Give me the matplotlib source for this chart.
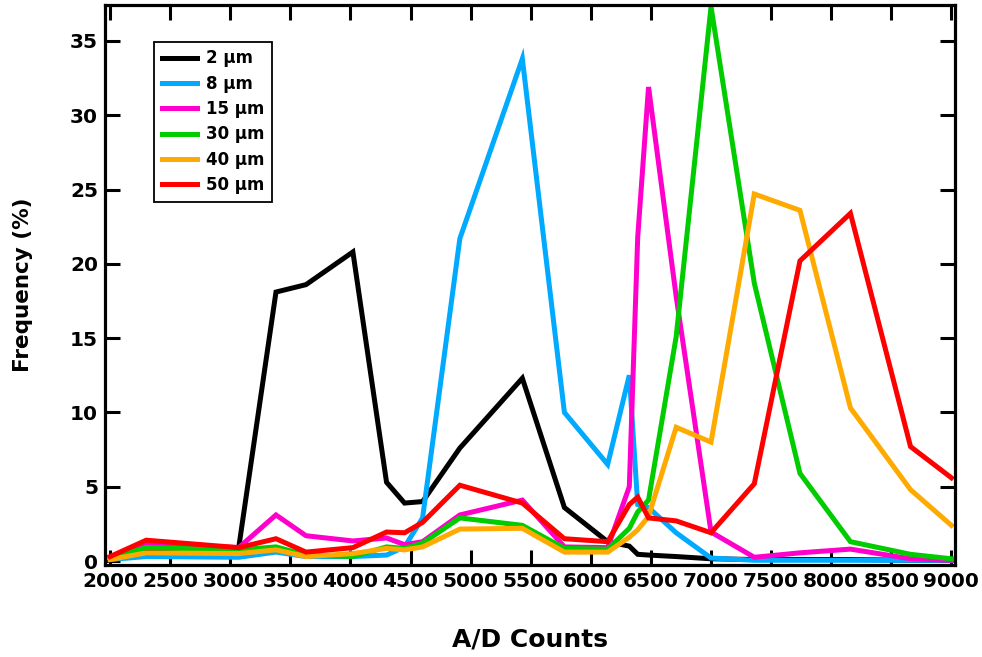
import numpy as np
import matplotlib.pyplot as plt

# ============================================================
#  DONNEES : distribution des comptes A/D par taille de particule
# ============================================================

counts = [2000, 2300, 3070, 3380, 3630, 4020, 4300, 4450, 4600, 4910, 5430, 5780,
          6140, 6320, 6390, 6480, 6710, 7000, 7360, 7740, 8160, 8660, 9000]

freq_2um = [0.2, 0.7, 0.9, 18.1, 18.6, 20.8, 5.3, 3.9, 4.0, 7.6, 12.3, 3.6,
            1.3, 1.0, 0.45, 0.4, 0.3, 0.15, 0.1, 0.1, 0.1, 0.05, 0.05]
freq_8um = [0.1, 0.3, 0.25, 0.6, 0.3, 0.3, 0.4, 0.95, 2.9, 21.7, 33.8, 10.0,
            6.5, 12.5, 3.8, 3.6, 1.9, 0.2, 0.05, 0.05, 0.05, 0.05, 0.05]
freq_15um = [0.2, 1.2, 0.9, 3.1, 1.7, 1.35, 1.55, 1.1, 1.3, 3.1, 4.1, 0.95,
             0.9, 5.0, 21.8, 31.9, 17.8, 1.95, 0.25, 0.55, 0.8, 0.15, 0.05]
freq_30um = [0.2, 0.9, 0.75, 0.95, 0.4, 0.3, 0.95, 0.85, 1.2, 2.9, 2.4, 0.85,
             0.8, 2.2, 3.3, 4.1, 15.1, 37.3, 18.7, 5.9, 1.3, 0.45, 0.15]
freq_40um = [0.1, 0.55, 0.5, 0.75, 0.3, 0.5, 0.85, 0.75, 0.95, 2.15, 2.2, 0.6,
             0.6, 1.6, 2.1, 3.0, 9.0, 8.0, 24.7, 23.6, 10.3, 4.8, 2.4]
freq_50um = [0.3, 1.4, 0.9, 1.5, 0.6, 0.9, 1.95, 1.9, 2.6, 5.1, 3.9, 1.5,
             1.3, 3.8, 4.3, 2.9, 2.7, 1.9, 5.2, 20.2, 23.4, 7.7, 5.6]

labels = ['2 μm', '8 μm', '15 μm', '30 μm', '40 μm', '50 μm']
colors = ['black', '#00aaff', '#ff00cc', '#00cc00', '#ffaa00', '#ff0000']
series = [freq_2um, freq_8um, freq_15um, freq_30um, freq_40um, freq_50um]

xticks = [2000, 2500, 3000, 3500, 4000, 4500, 5000, 5500, 6000, 6500, 7000, 7500, 8000, 8500, 9000]
yticks = [0, 5, 10, 15, 20, 25, 30, 35]

# ============================================================
#  FIGURE
# ============================================================
plt.rcParams['font.family'] = ['DejaVu Sans']
plt.rcParams['font.weight'] = 'bold'

fig = plt.figure(figsize=(9.82, 6.57), dpi=100)
ax = fig.add_axes([0.107, 0.140, 0.8655, 0.8524])

for y, lab, col in zip(series, labels, colors):
    ax.plot(counts, y, '-', color=col, lw=3.6, label=lab, solid_joinstyle='miter')

ax.set_xlim(1958, 9030)
ax.set_ylim(-0.27, 37.42)
ax.set_xticks(xticks)
ax.set_yticks(yticks)

for s in ax.spines.values():
    s.set_linewidth(2.3)
ax.tick_params(direction='in', length=11, width=2.2, top=True, right=True,
               labelsize=14.5, pad=5)
for t in ax.get_xticklabels() + ax.get_yticklabels():
    t.set_fontweight('bold')

ax.set_xlabel('A/D Counts', fontsize=18, fontweight='bold')
ax.set_ylabel('Frequency (%)', fontsize=15.5, fontweight='bold')
ax.xaxis.set_label_coords(0.5, -0.112)
ax.yaxis.set_label_coords(-0.085, 0.5)

leg = ax.legend(loc='upper left', bbox_to_anchor=(0.0576, 0.934), borderaxespad=0,
                fontsize=12, handlelength=2.1, handletextpad=0.55,
                labelspacing=0.44, fancybox=False, framealpha=1,
                edgecolor='black', borderpad=0.45)
leg.get_frame().set_linewidth(1.3)
for t in leg.get_texts():
    t.set_fontweight('bold')

plt.savefig('out.png', dpi=100)
